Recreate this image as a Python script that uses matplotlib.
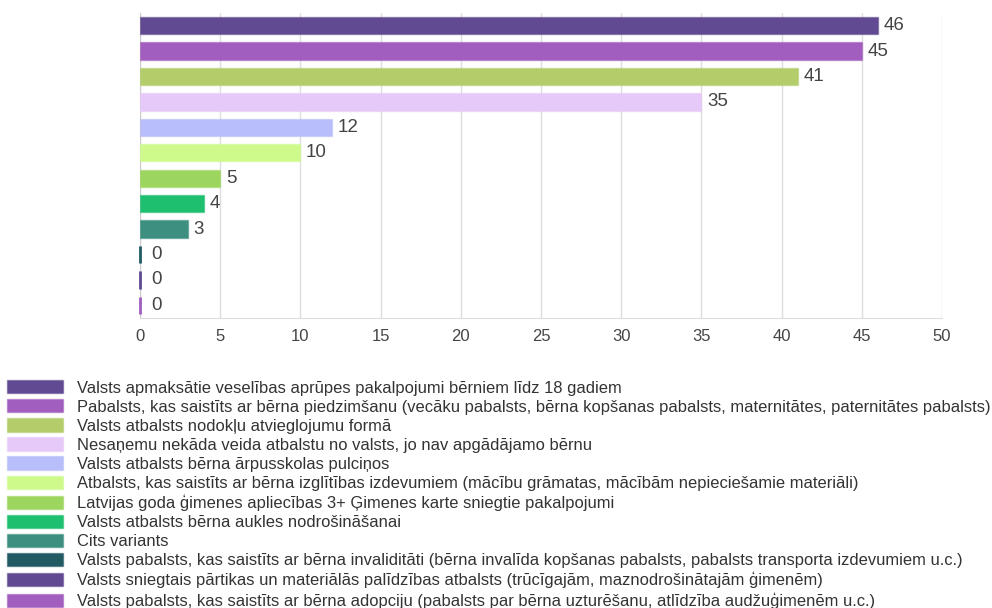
import matplotlib.pyplot as plt
from matplotlib.patches import Patch

plt.rcParams['font.family'] = ['Arial', 'Liberation Sans', 'DejaVu Sans']

labels = [
    'Valsts apmaksātie veselības aprūpes pakalpojumi bērniem līdz 18 gadiem',
    'Pabalsts, kas saistīts ar bērna piedzimšanu (vecāku pabalsts, bērna kopšanas pabalsts, maternitātes, paternitātes pabalsts)',
    'Valsts atbalsts nodokļu atvieglojumu formā',
    'Nesaņemu nekāda veida atbalstu no valsts, jo nav apgādājamo bērnu',
    'Valsts atbalsts bērna ārpusskolas pulciņos',
    'Atbalsts, kas saistīts ar bērna izglītības izdevumiem (mācību grāmatas, mācībām nepieciešamie materiāli)',
    'Latvijas goda ģimenes apliecības 3+ Ģimenes karte sniegtie pakalpojumi',
    'Valsts atbalsts bērna aukles nodrošināšanai',
    'Cits variants',
    'Valsts pabalsts, kas saistīts ar bērna invaliditāti (bērna invalīda kopšanas pabalsts, pabalsts transporta izdevumiem u.c.)',
    'Valsts sniegtais pārtikas un materiālās palīdzības atbalsts (trūcīgajām, maznodrošinātajām ģimenēm)',
    'Valsts pabalsts, kas saistīts ar bērna adopciju (pabalsts par bērna uzturēšanu, atlīdzība audžuģimenēm u.c.)',
]
values = [46, 45, 41, 35, 12, 10, 5, 4, 3, 0, 0, 0]
colors = ['#614a92', '#a25ebf', '#b2cd6a', '#e6c9f8', '#b8befa', '#cefa8b',
          '#9dd65f', '#1ebf6f', '#3d8f80', '#225a63', '#614a92', '#a25ebf']

fig = plt.figure(figsize=(9.92, 6.08), dpi=100)
ax = fig.add_axes([140 / 992, 1 - 318 / 608, (942 - 140) / 992, (318 - 13) / 608])

y = list(range(len(values)))
ax.barh(y, values, height=0.68, color=colors, edgecolor=[c + '80' for c in colors],
        linewidth=1, zorder=3)
# zero values still get a thin coloured stub at the axis
for yi, v, c in zip(y, values, colors):
    if v == 0:
        ax.plot([0, 0], [yi - 0.34, yi + 0.34], color=c, linewidth=2, zorder=4,
                solid_capstyle='butt', clip_on=False)
    ax.text(v + (0.7 if v == 0 else 0.35), yi, str(v), va='center', ha='left',
            fontsize=13.5, color='#444444')

ax.set_ylim(len(values) - 0.5, -0.5)
ax.set_xlim(0, 50)
ax.set_xticks(range(0, 51, 5))
ax.set_yticks([])
ax.tick_params(axis='x', length=0, labelsize=12, labelcolor='#444444', pad=8)
ax.grid(axis='x', color='#dddddd', linewidth=1)
ax.set_axisbelow(True)
for s in ['top', 'right']:
    ax.spines[s].set_visible(False)
ax.spines['left'].set_color('#cccccc')
ax.spines['bottom'].set_color('#dddddd')

handles = [Patch(facecolor=c, edgecolor=c + '80') for c in colors]
fig.legend(handles, labels, loc='upper left', bbox_to_anchor=(4 / 992, 1 - 377 / 608),
           frameon=False, fontsize=11.85, handlelength=3.4, handleheight=0.85,
           handletextpad=0.85, labelspacing=0.23, borderaxespad=0, borderpad=0.2,
           labelcolor='#333333')

fig.savefig('out.png', dpi=100)
